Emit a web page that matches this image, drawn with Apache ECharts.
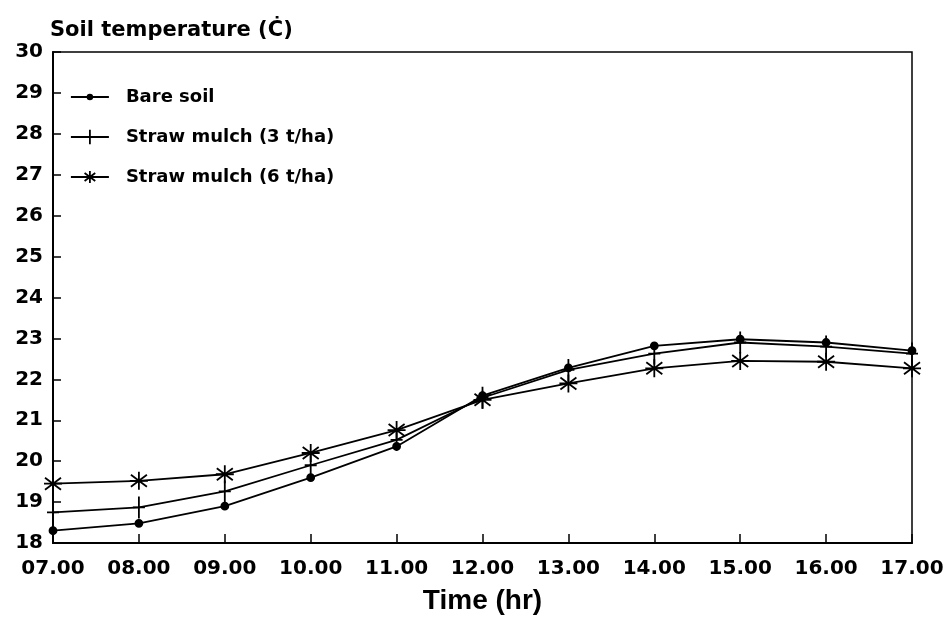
<!DOCTYPE html>
<html>
<head>
<meta charset="utf-8">
<script src="https://cdn.jsdelivr.net/npm/echarts@6/dist/echarts.min.js"></script>
<style>
  html, body { margin: 0; padding: 0; background: #fff; }
  #chart { width: 947px; height: 624px; }
</style>
</head>
<body>
<div id="chart"></div>
<script>
// Hourly readings, 07.00 to 17.00
const timeLabels = ['07.00', '08.00', '09.00', '10.00', '11.00', '12.00',
                    '13.00', '14.00', '15.00', '16.00', '17.00'];
const bareSoil = [18.30, 18.48, 18.90, 19.60, 20.36, 21.60, 22.28, 22.82, 22.98, 22.90, 22.70];
const strawMulch3 = [18.75, 18.87, 19.26, 19.90, 20.52, 21.55, 22.23, 22.63, 22.90, 22.80, 22.63];
const strawMulch6 = [19.45, 19.52, 19.68, 20.20, 20.76, 21.50, 21.90, 22.27, 22.45, 22.43, 22.27];

const seriesNames = ['Bare soil', 'Straw mulch (3 t/ha)', 'Straw mulch (6 t/ha)'];
const yMin = 18, yMax = 30, yStep = 1;

// Marker shapes, all drawn in a 24x24 box so they scale together
const dotSymbol = 'path://M-12,-12M12,12M-3.5,0A3.5,3.5,0,1,1,3.5,0A3.5,3.5,0,1,1,-3.5,0Z';
const plusSymbol = 'path://M-12,-12M12,12M0,-11L0,11M-6,0L6,0';
const starSymbol = 'path://M-12,-12M12,12M0,-9L0,9M-8,-6L8,6M-8,6L8,-6M-9,0L9,0';

const ink = '#000';
const labelFont = 'DejaVu Sans';

function makeSeries(name, values, symbol) {
  return {
    name: name,
    type: 'line',
    data: values,
    symbol: symbol,
    symbolSize: 24,
    showAllSymbol: true,
    lineStyle: { color: ink, width: 1.8 },
    itemStyle: { color: ink, borderColor: ink, borderWidth: 1.8 },
    emphasis: { disabled: true }
  };
}

const chart = echarts.init(document.getElementById('chart'), null, { renderer: 'canvas' });
chart.setOption({
  animation: false,
  backgroundColor: '#fff',
  title: {
    text: 'Soil temperature (Ċ)',
    left: 50,
    top: 20,
    padding: 0,
    textStyle: { fontFamily: labelFont, fontWeight: 'bold', fontSize: 21, color: ink }
  },
  legend: {
    orient: 'vertical',
    left: 70,
    top: 87,
    padding: 0,
    itemWidth: 38,
    itemHeight: 20,
    itemGap: 20,
    selectedMode: false,
    data: seriesNames,
    itemStyle: { color: ink, borderColor: ink, borderWidth: 1.8 },
    lineStyle: { color: ink, width: 1.8 },
    textStyle: {
      fontFamily: labelFont, fontWeight: 'bold', fontSize: 18, color: ink,
      lineHeight: 20, padding: [0, 0, 0, 12]
    }
  },
  grid: {
    left: 53, right: 35, top: 52, bottom: 81,
    show: true, borderColor: ink, borderWidth: 1.5, backgroundColor: 'transparent'
  },
  xAxis: {
    type: 'category',
    data: timeLabels,
    boundaryGap: false,
    name: 'Time (hr)',
    nameLocation: 'middle',
    nameGap: 44,
    nameTextStyle: { fontFamily: 'Liberation Sans', fontWeight: 'bold', fontSize: 28, color: ink },
    axisLine: { lineStyle: { color: ink, width: 2 } },
    axisTick: { inside: true, length: 9, lineStyle: { color: ink, width: 1.5 } },
    axisLabel: { margin: 16, fontFamily: labelFont, fontWeight: 'bold', fontSize: 20, color: ink },
    splitLine: { show: false }
  },
  yAxis: {
    type: 'value',
    min: yMin,
    max: yMax,
    interval: yStep,
    axisLine: { show: true, lineStyle: { color: ink, width: 2 } },
    axisTick: { show: true, inside: true, length: 8, lineStyle: { color: ink, width: 1.5 } },
    axisLabel: { margin: 10, fontFamily: labelFont, fontWeight: 'bold', fontSize: 20, color: ink },
    splitLine: { show: false }
  },
  series: [
    makeSeries(seriesNames[0], bareSoil, dotSymbol),
    makeSeries(seriesNames[1], strawMulch3, plusSymbol),
    makeSeries(seriesNames[2], strawMulch6, starSymbol)
  ]
});
</script>
</body>
</html>
